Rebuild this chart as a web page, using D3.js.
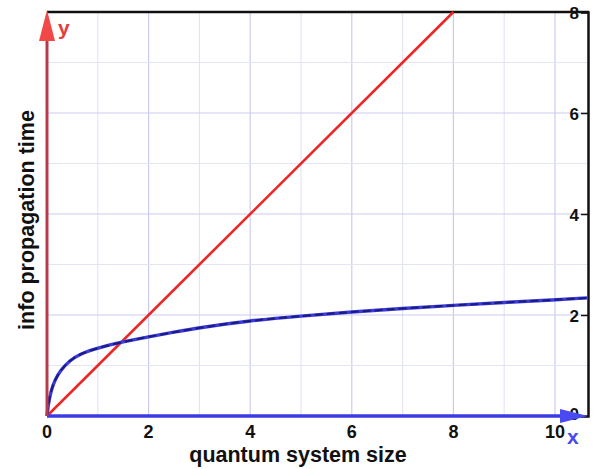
<!DOCTYPE html>
<html>
<head>
<meta charset="utf-8">
<script src="https://cdn.jsdelivr.net/npm/d3@7"></script>
<style>
    body { margin: 0; background: #fff; }
    svg text { font-family: "Liberation Sans", Arial, sans-serif; font-weight: bold; }
</style>
</head>
<body>
<svg id="chart" width="593" height="469"></svg>
<script>
// values
const xTicks = [0, 2, 4, 6, 8, 10];
const yTicks = [0, 2, 4, 6, 8];
const gridX = [1, 2, 3, 4, 5, 6, 7, 8, 9, 10];
const gridY = [1, 2, 3, 4, 5, 6, 7];
const lineX = [0, 8];
const lineY = [0, 8];
const curveX = [0, 0.03, 0.08, 0.15, 0.26, 0.45, 0.65, 1, 1.5, 2, 2.5, 3, 4, 5, 6, 7, 8, 9, 10, 10.65];
const curveY = [0, 0.26, 0.5, 0.7, 0.9, 1.1, 1.23, 1.35, 1.47, 1.57, 1.66, 1.75, 1.89, 1.98, 2.06, 2.13, 2.19, 2.25, 2.3, 2.34];

const LEFT = 47, RIGHT = 588, TOP = 12, BOTTOM = 416;

const svg = d3.select('#chart');

const x = d3.scaleLinear().domain([0, 10.65]).range([LEFT, RIGHT]),
    y = d3.scaleLinear().domain([0, 8]).range([BOTTOM, TOP]);

// grid
svg.append('g').selectAll('line.gx')
    .data(gridX)
    .enter().append('line')
    .attr('x1', d => x(d)).attr('x2', d => x(d))
    .attr('y1', y(8)).attr('y2', y(0))
    .attr('stroke', d => d % 2 ? '#e4e4f7' : '#cbcbf0')
    .attr('stroke-width', 1.2);

svg.append('g').selectAll('line.gy')
    .data(gridY)
    .enter().append('line')
    .attr('x1', x(0)).attr('x2', RIGHT)
    .attr('y1', d => y(d)).attr('y2', d => y(d))
    .attr('stroke', d => d % 2 ? '#e4e4f7' : '#cbcbf0')
    .attr('stroke-width', 1.2);

// frame: top and right
svg.append('line')
    .attr('x1', x(0)).attr('x2', RIGHT + 1)
    .attr('y1', y(8)).attr('y2', y(8))
    .attr('stroke', '#111').attr('stroke-width', 2.5);

svg.append('g')
    .attr('transform', 'translate(' + RIGHT + ',0)')
    .call(d3.axisLeft(y).tickValues(yTicks).tickSize(7).tickPadding(2))
    .call(g => {
        g.select('.domain').attr('stroke', '#111').attr('stroke-width', 2.5);
        g.selectAll('.tick line').attr('stroke', '#111').attr('stroke-width', 1.5);
        g.selectAll('.tick text')
            .attr('fill', '#111')
            .style('font-size', '17px')
            .attr('dy', d => d === 0 ? '0.2em' : '0.4em');
    });

// red line y = x
const line = d3.line().x(d => x(d[0])).y(d => y(d[1]));
svg.append('path')
    .datum(lineX.map((d, i) => [d, lineY[i]]))
    .attr('d', line)
    .attr('fill', 'none')
    .attr('stroke', '#ee2525')
    .attr('stroke-width', 2.6);

// blue curve
const curve = d3.line().x(d => x(d[0])).y(d => y(d[1])).curve(d3.curveBasis);
const curveData = curveX.map((d, i) => [d, curveY[i]]);
svg.append('path')
    .datum(curveData)
    .attr('d', curve)
    .attr('fill', 'none')
    .attr('stroke', '#3b3bd8')
    .attr('stroke-width', 3.4);
svg.append('path')
    .datum(curveData)
    .attr('d', curve)
    .attr('fill', 'none')
    .attr('stroke', '#1a1a80')
    .attr('stroke-width', 2)
    .attr('stroke-dasharray', '8,4');

// x axis (blue) with arrow
svg.append('line')
    .attr('x1', x(0)).attr('x2', RIGHT - 20)
    .attr('y1', y(0)).attr('y2', y(0))
    .attr('stroke', '#3a3ae6').attr('stroke-width', 3.5);
svg.append('path')
    .attr('d', 'M' + (RIGHT - 28) + ',' + (y(0) - 7) + 'L' + RIGHT + ',' + y(0) + 'L' + (RIGHT - 28) + ',' + (y(0) + 7) + 'Z')
    .attr('fill', '#4a4af2');

svg.append('g')
    .selectAll('text')
    .data(xTicks)
    .enter().append('text')
    .attr('x', d => x(d))
    .attr('y', y(0) + 22)
    .attr('text-anchor', 'middle')
    .attr('fill', '#111')
    .style('font-size', '18px')
    .text(d => d);

// y axis (red) with arrow
svg.append('line')
    .attr('x1', x(0)).attr('x2', x(0))
    .attr('y1', y(0)).attr('y2', TOP + 20)
    .attr('stroke', '#b83a4a').attr('stroke-width', 3);
svg.append('path')
    .attr('d', 'M' + (x(0) - 8) + ',' + (TOP + 29) + 'L' + x(0) + ',' + (TOP - 2) + 'L' + (x(0) + 8) + ',' + (TOP + 29) + 'Z')
    .attr('fill', '#f24848');

svg.append('text')
    .attr('x', 58).attr('y', 35)
    .attr('fill', '#e63c3c')
    .style('font-size', '21px')
    .text('y');

svg.append('text')
    .attr('x', 567).attr('y', 444)
    .attr('fill', '#4a4af2')
    .style('font-size', '21px')
    .text('x');

// axis titles
svg.append('text')
    .attr('x', 298).attr('y', 462)
    .attr('text-anchor', 'middle')
    .attr('fill', '#111')
    .style('font-size', '21.5px')
    .text('quantum system size');

svg.append('text')
    .attr('transform', 'translate(34,220) rotate(-90)')
    .attr('text-anchor', 'middle')
    .attr('fill', '#111')
    .style('font-size', '21.5px')
    .text('info propagation time');
</script>
</body>
</html>
